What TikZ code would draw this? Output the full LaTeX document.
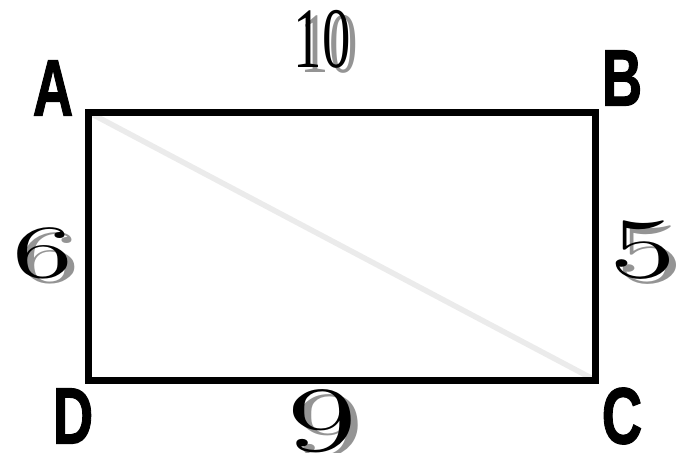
\documentclass[tikz,border=0pt]{standalone}
\usepackage{fontspec}
\newfontfamily\lblfont[FakeBold=1.5]{Liberation Sans Bold}
\newfontfamily\tenfont{Liberation Serif}
% old style figures at any size
\DeclareFontFamily{OML}{bigmm}{\skewchar\font'177}
\DeclareFontShape{OML}{bigmm}{m}{it}{<-> cmmi12}{}
% corner letters, condensed and heavy
\newcommand{\cornerltr}[1]{\scalebox{0.7}[1]{#1}}
% side lengths: size, horizontal stretch, digits
\newcommand{\oldnum}[3]{\fontencoding{OML}\fontfamily{bigmm}\fontseries{m}\fontshape{it}\fontsize{#1}{#1}\selectfont\scalebox{#2}[1]{#3}}
\newcommand{\tennum}[3]{\fontsize{#1}{#1}\tenfont\scalebox{#2}[1]{#3}}
\tikzset{
  letter/.style={font=\fontsize{80}{80}\selectfont\lblfont, inner sep=0pt},
  sidenum/.style={inner sep=0pt, text=black},
  sideshade/.style={inner sep=0pt, text=black!42, xshift=7pt, yshift=-5pt}
}
\begin{document}
\begin{tikzpicture}[x=1pt,y=-1pt]
  \useasboundingbox (0,0) rectangle (689,453);
  \coordinate (A) at (88,112);
  \coordinate (B) at (595,112);
  \coordinate (C) at (595,380);
  \coordinate (D) at (88,380);
  % diagonal first, the frame covers its ends
  \draw[line width=5.5pt, black!8] (A) -- (C);
  \draw[line width=7pt, black, line join=miter] (A) -- (B) -- (C) -- (D) -- cycle;
  % corner letters
  \node[letter] (lblA) at (53,88) {\cornerltr{A}};
  \node[letter] (lblB) at (622,78) {\cornerltr{B}};
  \node[letter] (lblC) at (622,416) {\cornerltr{C}};
  \node[letter] (lblD) at (73,416) {\cornerltr{D}};
  % side lengths with shadows
  \node[sideshade] (topS) at (322,39) {\tennum{86}{0.66}{10}};
  \node[sidenum] (top) at (322,39) {\tennum{86}{0.66}{10}};
  \node[sideshade] (leftS) at (43,253) {\oldnum{75}{1.65}{6}};
  \node[sidenum] (left) at (43,253) {\oldnum{75}{1.65}{6}};
  \node[sideshade] (rightS) at (643,250) {\oldnum{88}{1.55}{5}};
  \node[sidenum] (right) at (643,250) {\oldnum{88}{1.55}{5}};
  \node[sideshade] (bottomS) at (322,421) {\oldnum{95}{1.5}{9}};
  \node[sidenum] (bottom) at (322,421) {\oldnum{95}{1.5}{9}};
\end{tikzpicture}
\end{document}
